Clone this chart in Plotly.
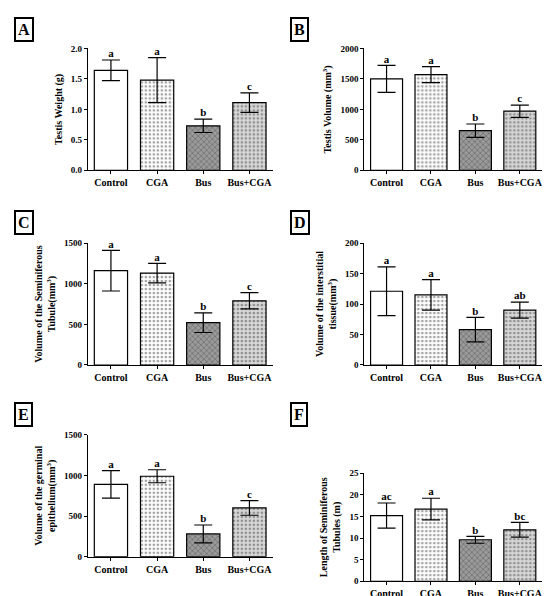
import plotly.graph_objects as go

groups = ["Control", "CGA", "Bus", "Bus+CGA"]

weight = [1.64, 1.48, 0.73, 1.11]
weight_err = [0.17, 0.37, 0.11, 0.16]
weight_sig = ["a", "a", "b", "c"]

volume = [1500, 1570, 650, 970]
volume_err = [220, 130, 110, 100]
volume_sig = ["a", "a", "b", "c"]

tubule = [1160, 1130, 520, 790]
tubule_err = [250, 120, 120, 100]
tubule_sig = ["a", "a", "b", "c"]

interst = [121, 115, 58, 90]
interst_err = [40, 25, 20, 13]
interst_sig = ["a", "a", "b", "ab"]

epith = [890, 990, 280, 600]
epith_err = [170, 80, 110, 90]
epith_sig = ["a", "a", "b", "c"]

length = [15.2, 16.7, 9.6, 11.9]
length_err = [2.9, 2.5, 0.8, 1.7]
length_sig = ["ac", "a", "b", "bc"]

W, H = 550, 596
FONT = "Liberation Serif"

# panel letter, data, y title, y range, dtick, (x0,x1,ytop,ybot) in pixels
panels = [
    ("A", weight, weight_err, weight_sig, "Testis Weight (g)", 2.0, 0.5, (80, 265, 36, 160)),
    ("B", volume, volume_err, volume_sig, "Testis Volume (mm<sup>3</sup>)", 2000, 500, (357, 535, 36, 160)),
    ("C", tubule, tubule_err, tubule_sig, "Volume of the Seminiferous<br>Tubule(mm<sup>3</sup>)", 1500, 500, (80, 265, 234, 358)),
    ("D", interst, interst_err, interst_sig, "Volume of the interstitial<br>tissue(mm<sup>3</sup>)", 200, 50, (357, 535, 234, 358)),
    ("E", epith, epith_err, epith_sig, "Volume of the germinal<br>epithelium(mm<sup>3</sup>)", 1500, 500, (80, 265, 429, 553)),
    ("F", length, length_err, length_sig, "Length of Seminiferous<br>Tubules (m)", 25, 5, (357, 535, 468, 578)),
]

bar_fill = ["white", "white", "#9a9a9a", "#d8d8d8"]
bar_shape = ["", ".", "x", "."]
bar_fg = ["black", "#888888", "#333333", "#777777"]

fig = go.Figure()
annotations = []
for i, (letter, vals, errs, sig, ytitle, ymax, dt, (x0, x1, yt, yb)) in enumerate(panels):
    n = "" if i == 0 else str(i + 1)
    fig.add_trace(go.Bar(
        x=groups, y=vals, xaxis="x" + n, yaxis="y" + n, width=0.72,
        marker=dict(color=bar_fill, line=dict(color="black", width=1.2),
                    pattern=dict(shape=bar_shape, fgcolor=bar_fg, bgcolor=bar_fill,
                                 size=4, solidity=0.35)),
        error_y=dict(type="data", array=errs, color="black", thickness=1.2, width=9),
        showlegend=False))
    fig.add_trace(go.Scatter(
        x=groups, y=[v + e for v, e in zip(vals, errs)], xaxis="x" + n, yaxis="y" + n,
        mode="text", text=["<b>" + s + "</b>" for s in sig], textposition="top center",
        textfont=dict(family=FONT, size=11, color="#000000"), showlegend=False))
    ax = dict(domain=[x0 / W, x1 / W], anchor="y" + n, showline=True, linecolor="black",
              linewidth=1.3, ticks="outside", ticklen=3, tickcolor="black",
              tickfont=dict(family=FONT, size=10, color="black", weight="bold"))
    ay = dict(domain=[1 - yb / H, 1 - yt / H], anchor="x" + n, range=[0, ymax], dtick=dt,
              showline=True, linecolor="black", linewidth=1.3, ticks="outside", ticklen=3,
              tickcolor="black", showgrid=False, zeroline=False,
              tickformat=".1f" if letter == "A" else "d",
              tickfont=dict(family=FONT, size=9, color="black", weight="bold"),
              title=dict(text="<b>" + ytitle + "</b>", font=dict(family=FONT, size=10, color="black"),
                         standoff=6))
    fig.layout["xaxis" + n] = ax
    fig.layout["yaxis" + n] = ay
    lx = 6 if x0 < 200 else 283
    ly = [4, 4, 200, 200, 396, 396][i]
    annotations.append(dict(text="<b>" + letter + "</b>", x=lx / W, y=1 - ly / H, xref="paper", yref="paper",
                            xanchor="left", yanchor="top", showarrow=False,
                            font=dict(family=FONT, size=16, color="black"),
                            bordercolor="black", borderwidth=2, borderpad=2, bgcolor="white"))

fig.update_layout(width=W, height=H, margin=dict(l=0, r=0, t=0, b=0),
                  plot_bgcolor="white", paper_bgcolor="white", annotations=annotations,
                  font=dict(family=FONT), bargap=0.3)
fig.write_html("out.html")
